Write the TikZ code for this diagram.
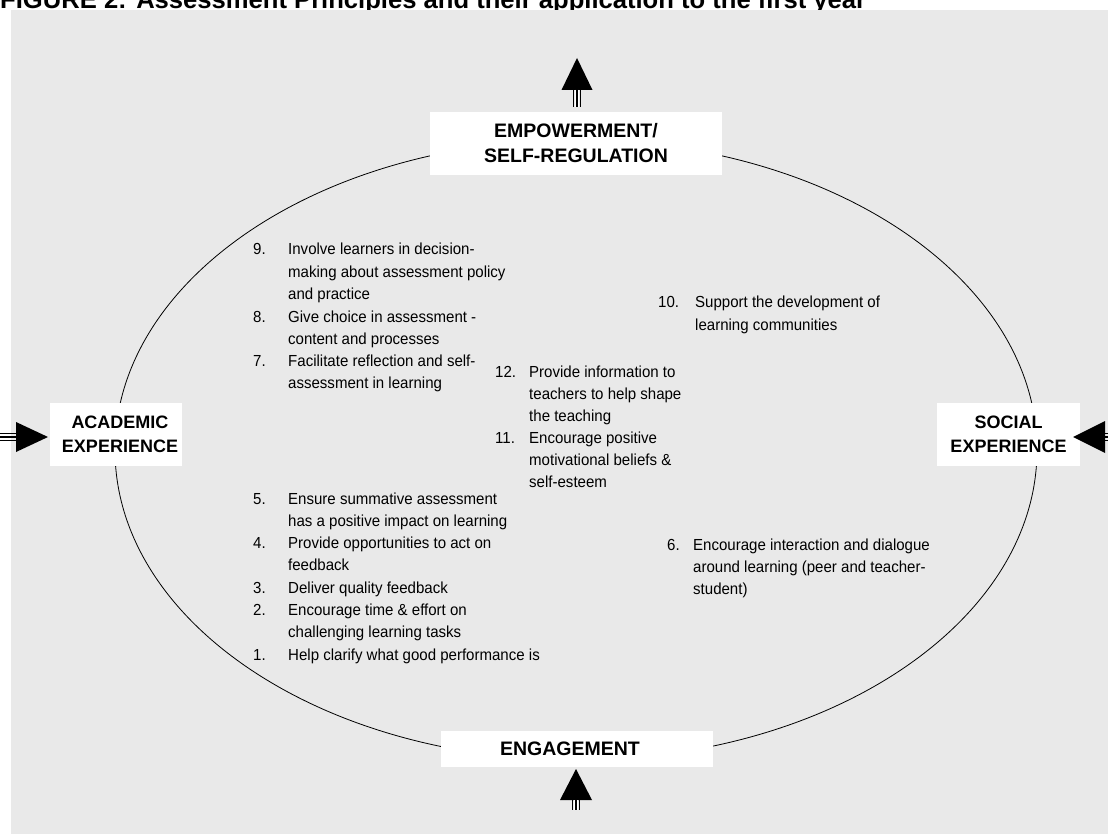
\documentclass[tikz,border=0pt]{standalone}
\usepackage{fontspec}
\setmainfont{Liberation Sans}
\newfontfamily\itemfont[FakeStretch=0.94]{Liberation Sans}
\definecolor{bggray}{HTML}{E9E9E9}
\begin{document}
\begin{tikzpicture}[x=1pt,y=-1pt,
  box/.style={fill=white, draw=none, inner sep=0pt, rectangle},
  boxtext/.style={font=\fontsize{19.5}{25}\selectfont\bfseries, align=center, inner sep=0pt},
  sidetext/.style={font=\fontsize{18}{24}\selectfont\bfseries, align=center, inner sep=0pt},
  itemtext/.style={font=\itemfont\fontsize{16}{22}\selectfont, anchor=base west, inner sep=0pt},
  head/.style={fill=black, draw=none},
  shaft/.style={line width=1.4pt, black}
]
\useasboundingbox (0,0) rectangle (1108,834);
\begin{scope}
\clip (0,0) rectangle (1108,834);
\node[anchor=base west, inner sep=0pt, font=\fontsize{25.6}{30}\selectfont\bfseries] (title) at (0,9) {FIGURE 2: Assessment Principles and their application to the first year};
\fill[bggray] (11,10) rectangle (1108,834);

% ellipse
\draw[line width=0.8pt] (576,450) ellipse [x radius=461pt, y radius=310pt];

% boxes
\node[box, minimum width=292pt, minimum height=63pt] (emp) at (576,143.5) {};
\node[boxtext] (empT) at (emp.center) {EMPOWERMENT/\\SELF-REGULATION};
\node[box, minimum width=132pt, minimum height=63pt] (acad) at (116,434.5) {};
\node[sidetext, xshift=4pt] (acadT) at (acad.center) {ACADEMIC\\EXPERIENCE};
\node[box, minimum width=143pt, minimum height=63pt] (soc) at (1008.5,434.5) {};
\node[sidetext] (socT) at (soc.center) {SOCIAL\\EXPERIENCE};
\node[box, minimum width=272pt, minimum height=36pt] (eng) at (577,749) {};
\node[boxtext, xshift=-7pt] (engT) at (eng.center) {ENGAGEMENT};

% top arrow
\coordinate (topTip) at (577,58);
\coordinate (topBase) at (577,90);
\coordinate (topEnd) at (577,107);
\fill[head] (topTip) -- ([xshift=-15.5pt]topBase) -- ([xshift=15.5pt]topBase) -- cycle;
\foreach \d in {-3.5,0,3.5} \draw[shaft] ([xshift=\d pt]topBase) -- ([xshift=\d pt]topEnd);
\draw[white, line width=0.8pt] ([xshift=-1.75pt]topBase) -- ([xshift=-1.75pt]topEnd);
\draw[white, line width=0.8pt] ([xshift=1.75pt]topBase) -- ([xshift=1.75pt]topEnd);

% bottom arrow
\coordinate (botTip) at (576,769);
\coordinate (botBase) at (576,800);
\coordinate (botEnd) at (576,810);
\fill[head] (botTip) -- ([xshift=-16pt]botBase) -- ([xshift=16pt]botBase) -- cycle;
\foreach \d in {-3.5,0,3.5} \draw[shaft] ([xshift=\d pt]botBase) -- ([xshift=\d pt]botEnd);
\draw[white, line width=0.8pt] ([xshift=-1.75pt]botBase) -- ([xshift=-1.75pt]botEnd);
\draw[white, line width=0.8pt] ([xshift=1.75pt]botBase) -- ([xshift=1.75pt]botEnd);

% left arrow
\coordinate (leftTip) at (48,437);
\coordinate (leftBase) at (16,437);
\coordinate (leftEnd) at (0,437);
\fill[head] (leftTip) -- ([yshift=-15pt]leftBase) -- ([yshift=15pt]leftBase) -- cycle;
\foreach \d in {-3.5,0,3.5} \draw[shaft] ([yshift=\d pt]leftBase) -- ([yshift=\d pt]leftEnd);

% right arrow
\coordinate (rightTip) at (1073,437);
\coordinate (rightBase) at (1105,437);
\coordinate (rightEnd) at (1108,437);
\fill[head] (rightTip) -- ([yshift=-16pt]rightBase) -- ([yshift=16pt]rightBase) -- cycle;
\foreach \d in {-3.5,0,3.5} \draw[shaft] ([yshift=\d pt]rightBase) -- ([yshift=\d pt]rightEnd);

% items upper left
\node[itemtext] (n9) at (253,255) {9.};
\node[itemtext] (t9) at (288,255) {\begin{tabular}[t]{@{}l@{}}Involve learners in decision-\\making about assessment policy\\and practice\end{tabular}};
\node[itemtext] (n8) at (253,322) {8.};
\node[itemtext] (t8) at (288,322) {\begin{tabular}[t]{@{}l@{}}Give choice in assessment -\\content and processes\end{tabular}};
\node[itemtext] (n7) at (253,366) {7.};
\node[itemtext] (t7) at (288,366) {\begin{tabular}[t]{@{}l@{}}Facilitate reflection and self-\\assessment in learning\end{tabular}};

% items centre
\node[itemtext] (n12) at (495,377) {12.};
\node[itemtext] (t12) at (529,377) {\begin{tabular}[t]{@{}l@{}}Provide information to\\teachers to help shape\\the teaching\end{tabular}};
\node[itemtext] (n11) at (495,443) {11.};
\node[itemtext] (t11) at (529,443) {\begin{tabular}[t]{@{}l@{}}Encourage positive\\motivational beliefs \&\\self-esteem\end{tabular}};

% item 10
\node[itemtext] (n10) at (658,308) {10.};
\node[itemtext] (t10) at (695,308) {\begin{tabular}[t]{@{}l@{}}Support the development of\\learning communities\end{tabular}};

% items lower left
\node[itemtext] (n5) at (253,504) {5.};
\node[itemtext] (t5) at (288,504) {\begin{tabular}[t]{@{}l@{}}Ensure summative assessment\\has a positive impact on learning\end{tabular}};
\node[itemtext] (n4) at (253,548) {4.};
\node[itemtext] (t4) at (288,548) {\begin{tabular}[t]{@{}l@{}}Provide opportunities to act on\\feedback\end{tabular}};
\node[itemtext] (n3) at (253,593) {3.};
\node[itemtext] (t3) at (288,593) {Deliver quality feedback};
\node[itemtext] (n2) at (253,615) {2.};
\node[itemtext] (t2) at (288,615) {\begin{tabular}[t]{@{}l@{}}Encourage time \& effort on\\challenging learning tasks\end{tabular}};
\node[itemtext] (n1) at (253,660) {1.};
\node[itemtext] (t1) at (288,660) {Help clarify what good performance is};

% item 6
\node[itemtext] (n6) at (667,550) {6.};
\node[itemtext] (t6) at (693,550) {\begin{tabular}[t]{@{}l@{}}Encourage interaction and dialogue\\around learning (peer and teacher-\\student)\end{tabular}};
\end{scope}
\end{tikzpicture}
\end{document}
